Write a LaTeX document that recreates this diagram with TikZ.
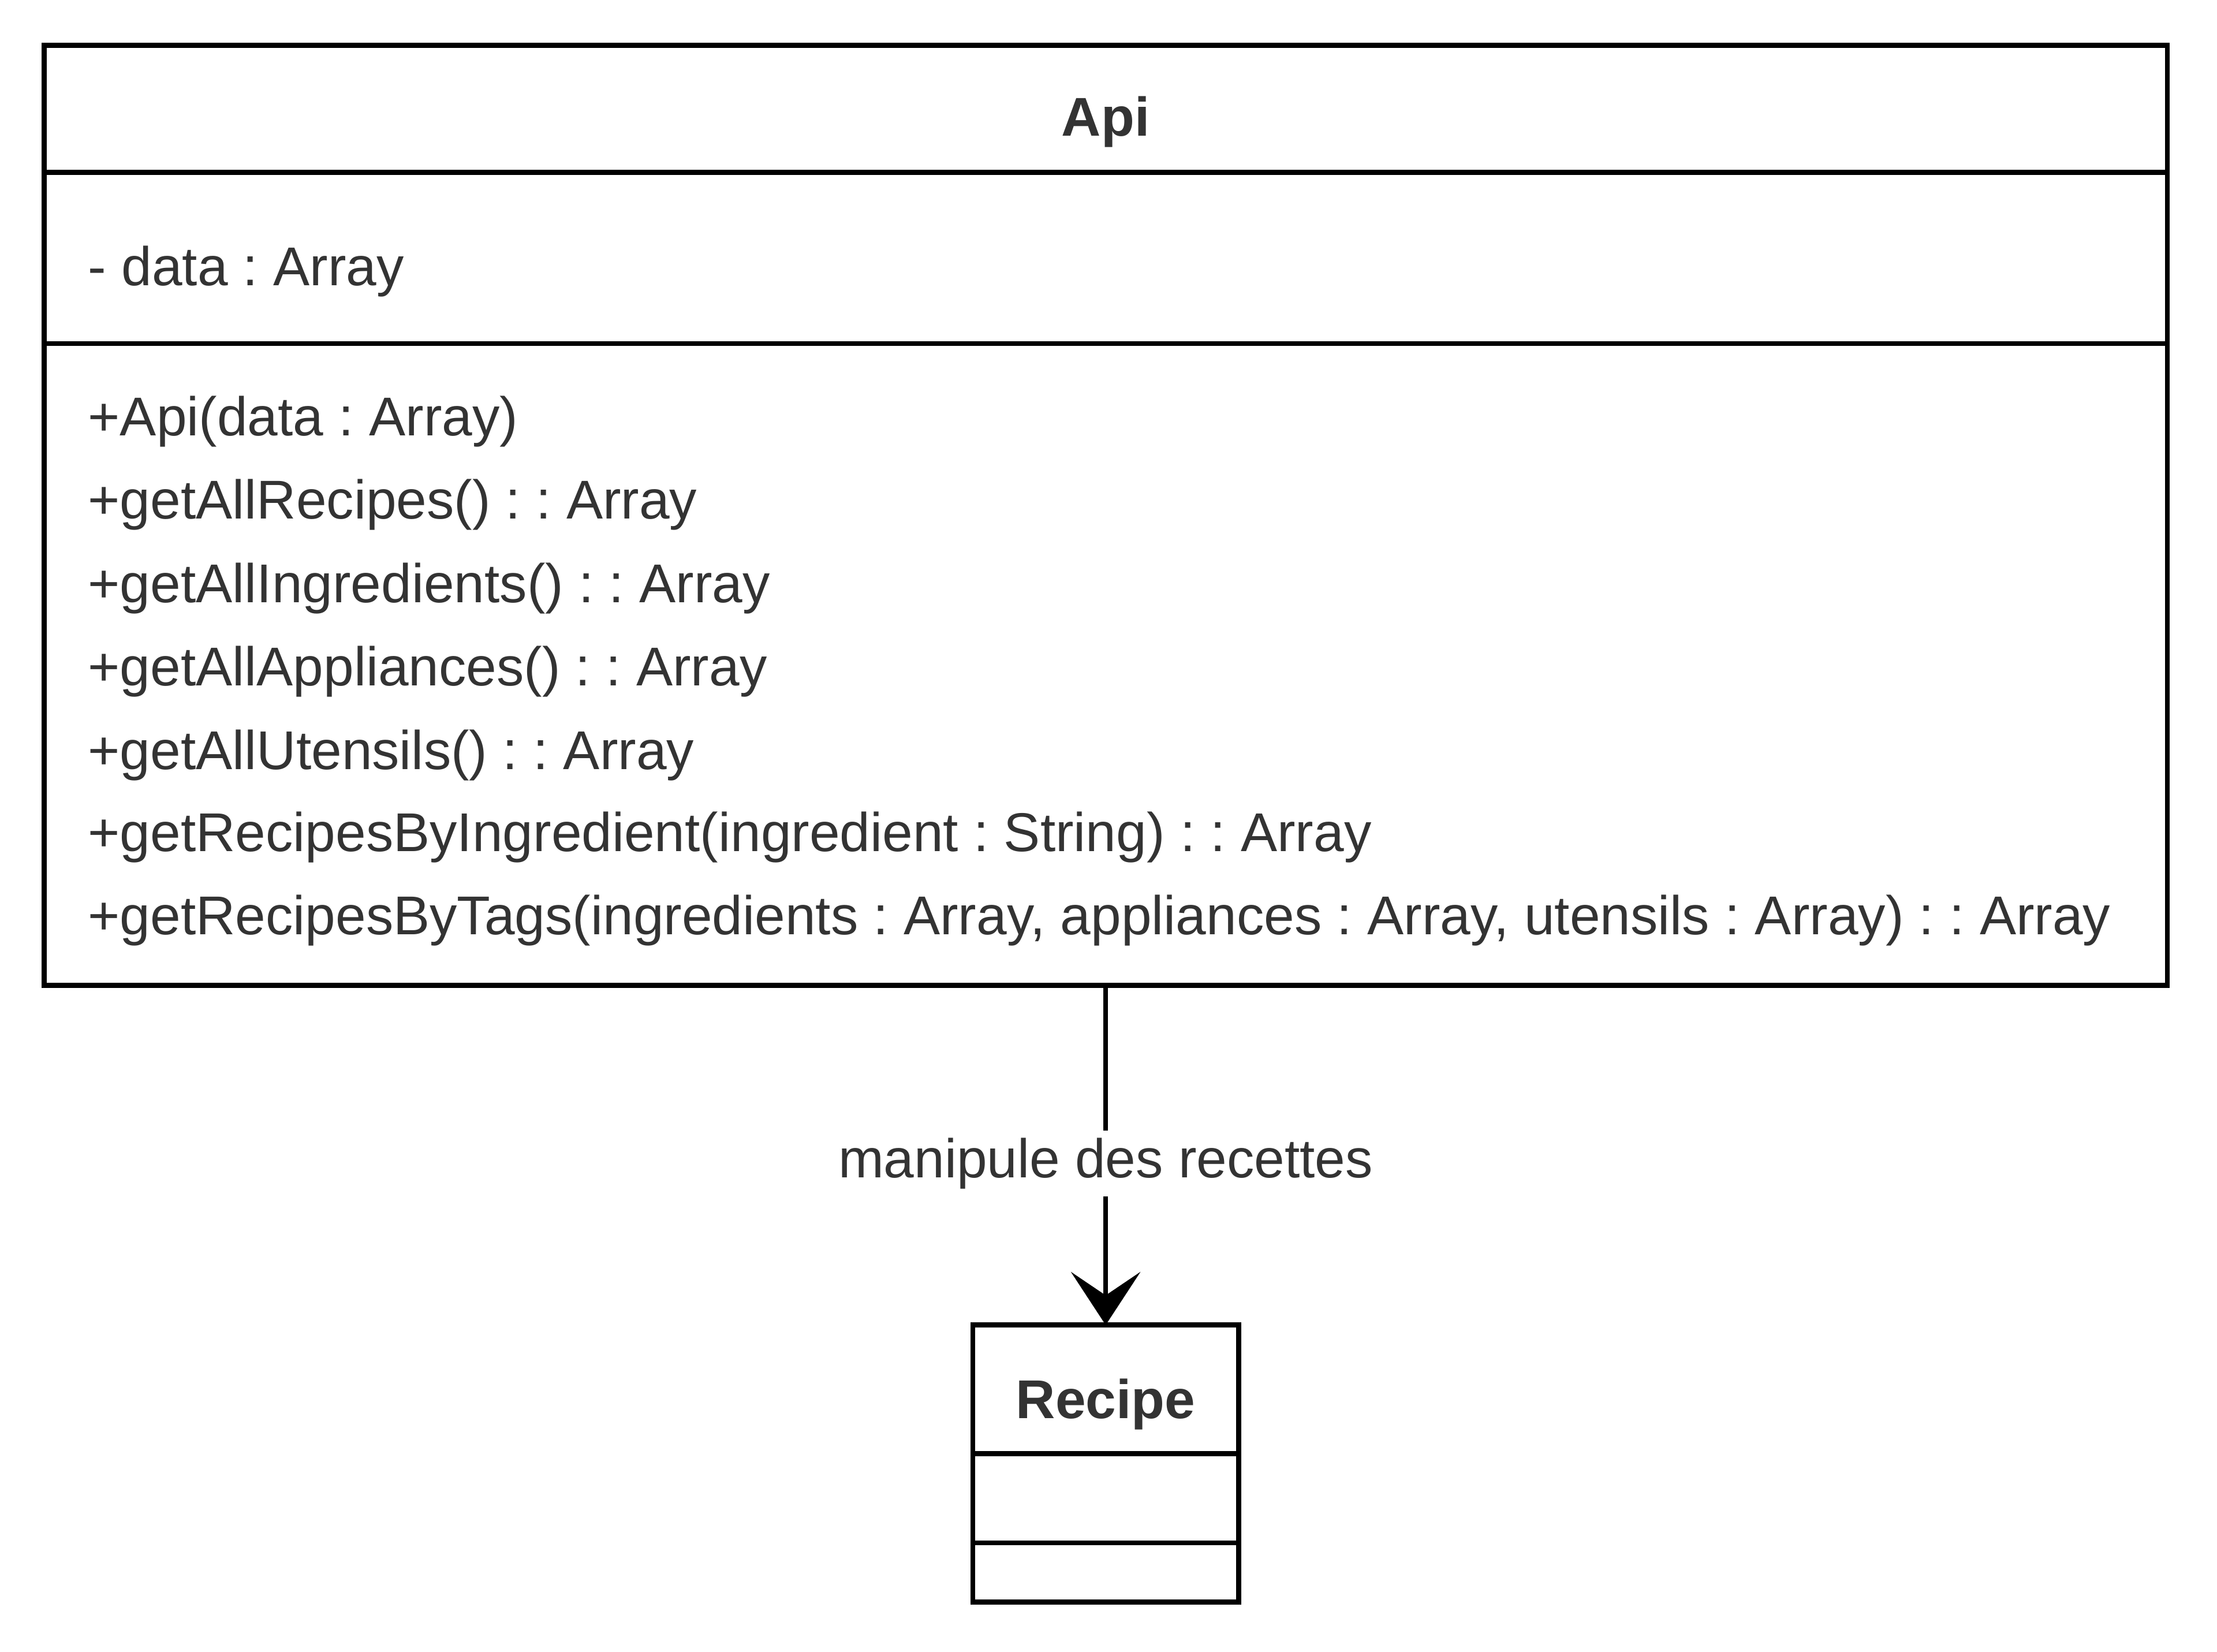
\documentclass[tikz,border=0pt]{standalone}
\usepackage{fontspec}
\setmainfont{Liberation Sans}
\usetikzlibrary{positioning,arrows.meta}
\definecolor{umltext}{HTML}{333333}
\frenchspacing
\tikzstyle{arrow} = [line width=2pt,-{Stealth[length=0.75cm,width=0.98cm,inset=0.33cm]}]

\begin{document}
\begin{tikzpicture}[x=0.02cm,y=-0.02cm]
\tikzset{classbox/.style={draw,line width=2pt,inner sep=0pt,outer sep=0pt},
  member/.style={anchor=base west,inner sep=0pt,text=umltext,font=\fontsize{22}{26}\selectfont},
  classname/.style={anchor=base,inner sep=0pt,text=umltext,font=\fontsize{22}{26}\selectfont\bfseries}}
\useasboundingbox (0,0) rectangle (1568,1168);

\node[classbox,minimum width=30.04cm,minimum height=13.3cm] (api) at (782,364.5) {};
\node[classbox,minimum width=3.76cm,minimum height=3.92cm] (recipe) at (782,1035) {};

\draw[line width=2pt] (31,122) -- (1533,122);
\draw[line width=2pt] (31,243) -- (1533,243);
\draw[line width=2pt] (688,1028) -- (876,1028);
\draw[line width=2pt] (688,1091) -- (876,1091);

\node[classname] (apiname) at (782,96) {Api};
\node[member] (apidata) at (62,202) {- data : Array};
\node[member] (m1) at (62,308) {+Api(data : Array)};
\node[member] (m2) at (62,367) {+getAllRecipes() : : Array};
\node[member] (m3) at (62,426) {+getAllIngredients() : : Array};
\node[member] (m4) at (62,485) {+getAllAppliances() : : Array};
\node[member] (m5) at (62,544) {+getAllUtensils() : : Array};
\node[member] (m6) at (62,602) {+getRecipesByIngredient(ingredient : String) : : Array};
\node[member] (m7) at (62,661) {+getRecipesByTags(ingredients : Array, appliances : Array, utensils : Array) : : Array};

\node[classname] (recipename) at (782,1003) {Recipe};

\draw [arrow] (api.south) -- node[fill=white,inner sep=3pt,yshift=-3.4pt,text=umltext,font=\fontsize{22}{26}\selectfont] (rel) {manipule des recettes} (recipe.north);
\end{tikzpicture}
\end{document}
